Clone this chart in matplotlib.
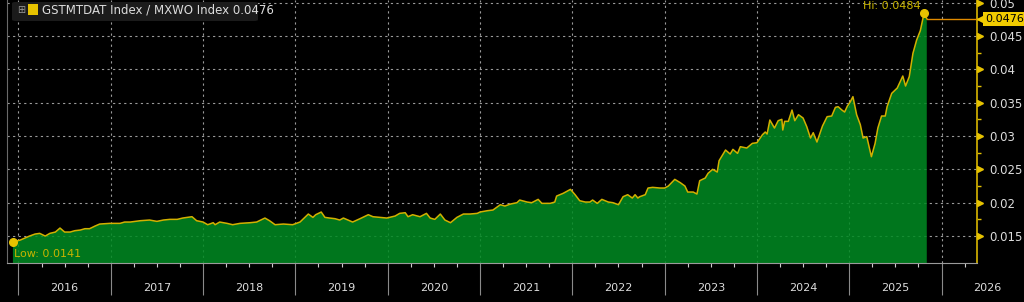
import numpy as np
import matplotlib.pyplot as plt
from matplotlib.patches import FancyBboxPatch, Rectangle
from matplotlib.transforms import blended_transform_factory

# GSTMTDAT Index / MXWO Index ratio (decimal years)
years = [2015.94, 2016.02, 2016.07, 2016.12, 2016.18, 2016.23, 2016.29, 2016.34, 2016.40,
         2016.45, 2016.50, 2016.56, 2016.61, 2016.67, 2016.72, 2016.77, 2016.83, 2016.88,
         2016.99, 2017.10, 2017.15, 2017.21, 2017.32, 2017.42, 2017.50, 2017.57, 2017.64,
         2017.72, 2017.78, 2017.88, 2017.93, 2018.00, 2018.05, 2018.11, 2018.13, 2018.18,
         2018.26, 2018.32, 2018.40, 2018.51, 2018.58, 2018.67, 2018.72, 2018.78, 2018.87,
         2018.97, 2019.05, 2019.14, 2019.19, 2019.22, 2019.28, 2019.32, 2019.37, 2019.43,
         2019.48, 2019.52, 2019.57, 2019.62, 2019.70, 2019.79, 2019.84, 2019.92, 2019.99,
         2020.08, 2020.13, 2020.19, 2020.22, 2020.27, 2020.35, 2020.42, 2020.46, 2020.51,
         2020.57, 2020.62, 2020.68, 2020.75, 2020.82, 2020.89, 2020.97, 2021.00, 2021.08,
         2021.14, 2021.22, 2021.27, 2021.33, 2021.40, 2021.43, 2021.51, 2021.56, 2021.63,
         2021.67, 2021.76, 2021.81, 2021.83, 2021.90, 2021.98, 2022.03, 2022.08, 2022.14,
         2022.19, 2022.22, 2022.27, 2022.32, 2022.39, 2022.44, 2022.50, 2022.55, 2022.60,
         2022.65, 2022.68, 2022.71, 2022.73, 2022.79, 2022.82, 2022.87, 2022.95, 2023.00,
         2023.04, 2023.11, 2023.17, 2023.22, 2023.25, 2023.31, 2023.35, 2023.38, 2023.44,
         2023.47, 2023.52, 2023.57, 2023.59, 2023.63, 2023.66, 2023.71, 2023.74, 2023.79,
         2023.82, 2023.89, 2023.95, 2024.00, 2024.06, 2024.09, 2024.11, 2024.14, 2024.19,
         2024.23, 2024.27, 2024.28, 2024.30, 2024.34, 2024.38, 2024.41, 2024.45, 2024.50,
         2024.54, 2024.58, 2024.61, 2024.65, 2024.71, 2024.76, 2024.81, 2024.85, 2024.88,
         2024.92, 2024.95, 2024.98, 2025.01, 2025.04, 2025.08, 2025.12, 2025.15, 2025.19,
         2025.24, 2025.28, 2025.31, 2025.35, 2025.39, 2025.41, 2025.46, 2025.52, 2025.55,
         2025.58, 2025.61, 2025.65, 2025.69, 2025.73, 2025.77, 2025.81, 2025.84]
ratio = [0.0141, 0.0144, 0.0147, 0.0150, 0.0153, 0.0154, 0.0150, 0.0154, 0.0156,
         0.0162, 0.0156, 0.0156, 0.0158, 0.0159, 0.0161, 0.0161, 0.0165, 0.0168,
         0.0169, 0.0169, 0.0171, 0.0171, 0.0173, 0.0174, 0.0172, 0.0174, 0.0175,
         0.0175, 0.0177, 0.0179, 0.0173, 0.0171, 0.0167, 0.0170, 0.0167, 0.0171,
         0.0169, 0.0167, 0.0169, 0.0170, 0.0171, 0.0177, 0.0173, 0.0167, 0.0168,
         0.0167, 0.0171, 0.0183, 0.0178, 0.0182, 0.0186, 0.0178, 0.0177, 0.0176,
         0.0174, 0.0177, 0.0174, 0.0171, 0.0176, 0.0182, 0.0179, 0.0178, 0.0177,
         0.0180, 0.0184, 0.0185, 0.0179, 0.0182, 0.0179, 0.0184, 0.0177, 0.0175,
         0.0183, 0.0174, 0.0170, 0.0178, 0.0183, 0.0183, 0.0184, 0.0186, 0.0188,
         0.0189, 0.0197, 0.0195, 0.0198, 0.0200, 0.0204, 0.0201, 0.0200, 0.0205,
         0.0199, 0.0199, 0.0201, 0.0210, 0.0214, 0.0220, 0.0212, 0.0203, 0.0201,
         0.0201, 0.0204, 0.0199, 0.0205, 0.0201, 0.0200, 0.0197, 0.0209, 0.0212,
         0.0207, 0.0212, 0.0207, 0.0209, 0.0212, 0.0222, 0.0223, 0.0222, 0.0222,
         0.0225, 0.0235, 0.0230, 0.0225, 0.0216, 0.0216, 0.0213, 0.0233, 0.0237,
         0.0244, 0.0250, 0.0246, 0.0263, 0.0272, 0.0279, 0.0273, 0.0280, 0.0274,
         0.0284, 0.0282, 0.0289, 0.0290, 0.0302, 0.0306, 0.0303, 0.0324, 0.0312,
         0.0323, 0.0325, 0.0309, 0.0322, 0.0322, 0.0339, 0.0323, 0.0332, 0.0327,
         0.0314, 0.0297, 0.0305, 0.0291, 0.0315, 0.0329, 0.0330, 0.0343, 0.0344,
         0.0339, 0.0336, 0.0345, 0.0351, 0.0359, 0.0332, 0.0317, 0.0297, 0.0299,
         0.0269, 0.0289, 0.0312, 0.0330, 0.0330, 0.0344, 0.0364, 0.0372, 0.0381,
         0.0390, 0.0375, 0.0389, 0.0424, 0.0444, 0.0458, 0.0484, 0.0476]

year_labels = [str(y) for y in range(2016, 2027)]
y_ticks = [0.015, 0.02, 0.025, 0.03, 0.035, 0.04, 0.045, 0.05]
y_tick_labels = ['0.015', '0.02', '0.025', '0.03', '0.035', '0.04', '0.045', '0.05']
last_value = 0.0476
hi_value = 0.0484
low_value = 0.0141
legend_text = 'GSTMTDAT Index / MXWO Index 0.0476'

yellow = '#e6c200'
gold_line = '#d2b000'
label_grey = '#dcdcdc'

fig = plt.figure(figsize=(10.24, 3.02), dpi=100, facecolor='black')
ax = fig.add_axes([0.0073, 0.129, 0.9468, 0.871])
ax.set_facecolor('black')
ax.set_axisbelow(True)

ax.fill_between(years, ratio, 0, color='#008a22', alpha=0.86, lw=0, zorder=2)
ax.plot(years, ratio, color=gold_line, lw=1.1, zorder=3)

ax.set_xlim(2015.881, 2026.384)
ax.set_ylim(0.01095, 0.0504)

# x axis: year separators, quarter ticks, centred year labels
ax.set_xticks(range(2016, 2027))
ax.set_xticks([y + q for y in range(2015, 2027) for q in (0.25, 0.5, 0.75)
               if 2015.881 < y + q < 2026.384], minor=True)
ax.tick_params(axis='x', which='major', length=23, color='#8a8a8a', width=0.8,
               labelbottom=False)
ax.tick_params(axis='x', which='minor', length=3, color='#cccccc', width=0.8)
trans_x = blended_transform_factory(ax.transData, ax.transAxes)
for lab in year_labels:
    ax.text(int(lab) + 0.5, -0.095, lab, transform=trans_x, ha='center', va='center',
            color=label_grey, fontsize=8)

# y axis on the right
ax.yaxis.tick_right()
ax.set_yticks(y_ticks)
ax.set_yticklabels(y_tick_labels)
ax.set_yticks(np.array(y_ticks[:-1]) + 0.0025, minor=True)
ax.tick_params(axis='y', which='major', length=0, pad=8.5, labelcolor=label_grey,
               labelsize=8.5)
ax.tick_params(axis='y', which='minor', right=True, left=False, length=3,
               color=yellow, width=1)
trans_y = blended_transform_factory(ax.transAxes, ax.transData)
ax.plot([1.0035] * len(y_ticks), y_ticks, transform=trans_y, ls='none', marker='>',
        ms=5, color=yellow, clip_on=False, zorder=5)

ax.grid(True, which='major', color='#9a9a9a', ls=(0, (2, 3)), lw=0.8)

ax.spines['top'].set_visible(False)
ax.spines['left'].set_color('#6a6a6a')
ax.spines['bottom'].set_color('#9a9a9a')
ax.spines['right'].set_color('#c8a800')
ax.spines['right'].set_linewidth(1.3)

# last value line and tag
ax.plot([years[-1], ax.get_xlim()[1]], [last_value, last_value], color='#e08a00',
        lw=1, zorder=4, clip_on=False)
ax.plot([1.0045], [last_value], transform=trans_y, marker='<', ms=6, color='#f2cc00',
        clip_on=False, zorder=6)
ax.text(1.0085, last_value, '0.0476', transform=trans_y, ha='left', va='center',
        fontsize=8, color='black', zorder=7,
        bbox=dict(boxstyle='square,pad=0.18', fc='#f2cc00', ec='none'))

# hi / low markers
hi_x = years[ratio.index(hi_value)]
low_x = years[ratio.index(low_value)]
ax.plot([hi_x], [hi_value], 'o', ms=5.5, color=yellow, zorder=6, clip_on=False)
ax.plot([low_x], [low_value], 'o', ms=5.5, color=yellow, zorder=6, clip_on=False)
ax.annotate('Hi: 0.0484', (hi_x, hi_value), xytext=(-3, 7), textcoords='offset pixels',
            ha='right', va='center', color='#c8b400', fontsize=8)
ax.annotate('Low: 0.0141', (low_x, low_value), xytext=(1, -12), textcoords='offset pixels',
            ha='left', va='center', color='#c8b400', fontsize=8)

# legend box top-left
W, H = 1024.0, 302.0
fig.patches.append(FancyBboxPatch((12 / W, 1 - 21 / H), 246 / W, 19 / H,
                                  boxstyle='round,pad=0,rounding_size=0.004',
                                  transform=fig.transFigure, fc='#1b1b1b', ec='none',
                                  zorder=8))
fig.text(21 / W, 1 - 10 / H, '⊞', color='#9a9a9a', fontsize=7, ha='center',
         va='center', zorder=9)
fig.patches.append(Rectangle((28 / W, 1 - 15 / H), 10 / W, 11 / H,
                             transform=fig.transFigure, fc=yellow, ec='none', zorder=9))
fig.text(42 / W, 1 - 10 / H, legend_text, color=label_grey, fontsize=8.5,
         ha='left', va='center', zorder=9)

fig.savefig('out.png', dpi=100, facecolor='black')
